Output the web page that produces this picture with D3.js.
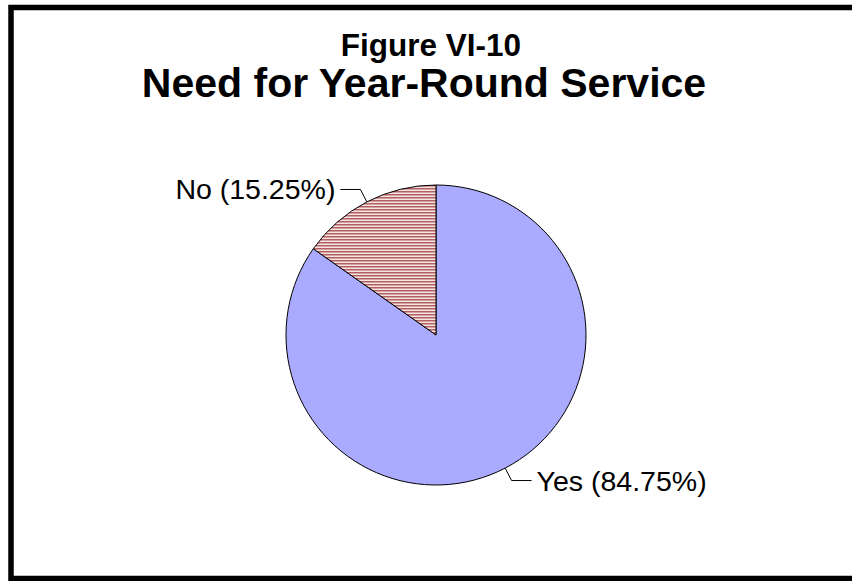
<!DOCTYPE html>
<html>
<head>
<meta charset="utf-8">
<script src="https://cdn.jsdelivr.net/npm/d3@7"></script>
<style>
  body { margin: 0; background: #fff; }
  svg { display: block; }
  text { font-family: "Liberation Sans", Arial, sans-serif; }
</style>
</head>
<body>
<div id="chart"></div>
<script>
// chart data
const categories = ["Yes", "No"];
const shares = [84.75, 15.25];
const labels = ["Yes (84.75%)", "No (15.25%)"];
const titleLines = ["Figure VI-10", "Need for Year-Round Service"];

const width = 852, height = 581;
const cx = 436, cy = 335, radius = 150;

const svg = d3.select("#chart").append("svg")
    .attr("width", width)
    .attr("height", height);

// hatch pattern for the "No" slice
const defs = svg.append("defs");
const pat = defs.append("pattern")
    .attr("id", "hatch")
    .attr("patternUnits", "userSpaceOnUse")
    .attr("width", 6)
    .attr("height", 3);
pat.append("rect").attr("width", 6).attr("height", 3).attr("fill", "#f6e4e4");
pat.append("rect").attr("width", 6).attr("height", 1.5).attr("fill", "#b25f60");

// outer frame (right side runs off the picture)
svg.append("rect")
    .attr("x", 11)
    .attr("y", 7.5)
    .attr("width", 880)
    .attr("height", 571)
    .attr("fill", "none")
    .attr("stroke", "#000")
    .attr("stroke-width", 5.5);

// titles
svg.append("text")
    .attr("x", 431)
    .attr("y", 56)
    .attr("text-anchor", "middle")
    .attr("font-weight", "bold")
    .attr("font-size", 31.5)
    .text(titleLines[0]);

svg.append("text")
    .attr("x", 424)
    .attr("y", 97)
    .attr("text-anchor", "middle")
    .attr("font-weight", "bold")
    .attr("font-size", 41)
    .text(titleLines[1]);

// pie
const data = categories.map((c, i) => ({cat: c, value: shares[i], label: labels[i]}));
const pie = d3.pie().sort(null).value(d => d.value);
const arcs = pie(data);
const arc = d3.arc().innerRadius(0).outerRadius(radius);
const colors = d3.scaleOrdinal().domain(categories).range(["#aaaaff", "url(#hatch)"]);

const g = svg.append("g").attr("transform", `translate(${cx},${cy})`);

g.selectAll("path.slice")
    .data(arcs)
    .join("path")
    .attr("class", "slice")
    .attr("d", arc)
    .attr("fill", d => colors(d.data.cat))
    .attr("stroke", "#000")
    .attr("stroke-width", 1);

// leader lines and labels
arcs.forEach(d => {
    const mid = (d.startAngle + d.endAngle) / 2;
    const sx = Math.sin(mid), sy = -Math.cos(mid);
    const p0 = [sx * radius, sy * radius];
    const p1 = [sx * (radius + 14), sy * (radius + 14)];
    const dir = sx >= 0 ? 1 : -1;
    const p2 = [p1[0] + dir * 20, p1[1]];

    g.append("polyline")
        .attr("points", [p0, p1, p2].map(p => p.join(",")).join(" "))
        .attr("fill", "none")
        .attr("stroke", "#000")
        .attr("stroke-width", 1);

    g.append("text")
        .attr("x", p2[0] + dir * 5)
        .attr("y", p2[1])
        .attr("dy", "0.35em")
        .attr("text-anchor", dir > 0 ? "start" : "end")
        .attr("font-size", 28.5)
        .text(d.data.label);
});
</script>
</body>
</html>
